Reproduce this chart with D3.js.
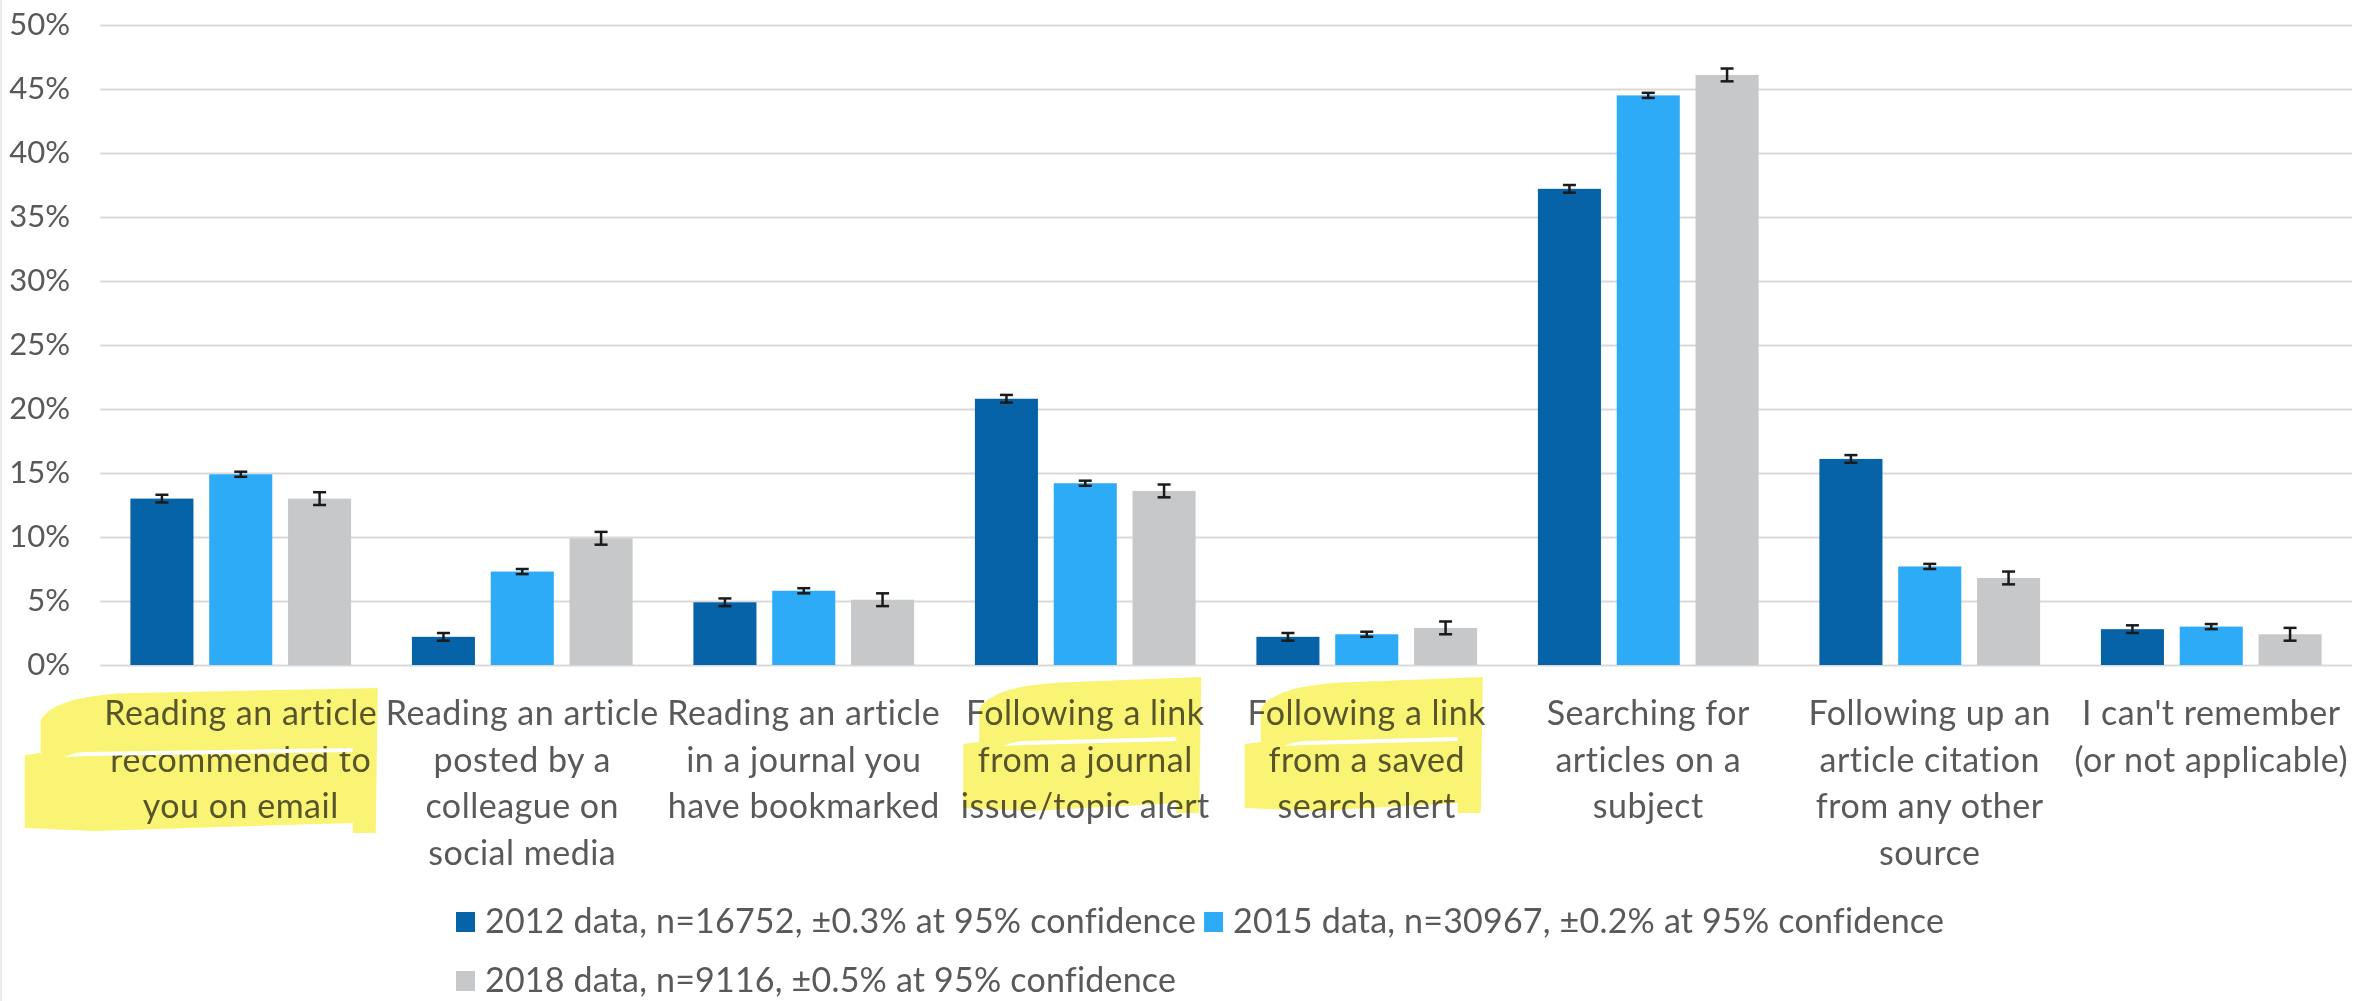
<!DOCTYPE html>
<html>
<head>
<meta charset="utf-8">
<script src="https://cdn.jsdelivr.net/npm/d3@7"></script>
<style>
  html, body { margin: 0; padding: 0; background: #fff; }
  svg text { font-family: Lato, "Open Sans", sans-serif; fill: #595959; }
</style>
</head>
<body>
<svg id="chart"></svg>
<script>
// category labels, one array of lines per category
const categories = [
  ['Reading an article', 'recommended to', 'you on email'],
  ['Reading an article', 'posted by a', 'colleague on', 'social media'],
  ['Reading an article', 'in a journal you', 'have bookmarked'],
  ['Following a link', 'from a journal', 'issue/topic alert'],
  ['Following a link', 'from a saved', 'search alert'],
  ['Searching for', 'articles on a', 'subject'],
  ['Following up an', 'article citation', 'from any other', 'source'],
  ["I can't remember", '(or not applicable)']
];
const seriesNames = [
  '2012 data, n=16752, ±0.3% at 95% confidence',
  '2015 data, n=30967, ±0.2% at 95% confidence',
  '2018 data, n=9116, ±0.5% at 95% confidence'
];
const values2012 = [13.0, 2.2, 4.9, 20.8, 2.2, 37.2, 16.1, 2.8];
const values2015 = [14.9, 7.3, 5.8, 14.2, 2.4, 44.5, 7.7, 3.0];
const values2018 = [13.0, 9.9, 5.1, 13.6, 2.9, 46.1, 6.8, 2.4];
const errors = [0.3, 0.2, 0.5];
const colors = ['#0663a8', '#2eabf6', '#c7c8c9'];
const yTicks = [0, 5, 10, 15, 20, 25, 30, 35, 40, 45, 50];
const highlighted = [0, 3, 4];

const width = 2376, height = 1001;
const margin = { top: 25, right: 24, bottom: 336, left: 100 };
const font = 'Lato, "Open Sans", sans-serif';

const svg = d3.select('#chart').attr('width', width).attr('height', height);

const allValues = [values2012, values2015, values2018];

const x0 = d3.scaleBand()
  .domain(d3.range(categories.length))
  .range([margin.left, width - margin.right])
  .paddingInner(0.216)
  .paddingOuter(0.108);

const x1 = d3.scaleBand()
  .domain(d3.range(seriesNames.length))
  .range([0, x0.bandwidth()])
  .paddingInner(0.2);

const y = d3.scaleLinear()
  .domain([0, 50])
  .range([height - margin.bottom, margin.top]);

// faint chart-area border on the left
svg.append('line')
  .attr('x1', 1).attr('x2', 1).attr('y1', 0).attr('y2', height)
  .attr('stroke', '#ececec').attr('stroke-width', 2);

// gridlines + y labels
const yAxis = d3.axisLeft(y)
  .tickValues(yTicks)
  .tickSize(-(width - margin.left - margin.right))
  .tickPadding(30)
  .tickFormat(d => d + '%');

const gy = svg.append('g')
  .attr('transform', `translate(${margin.left},0)`)
  .call(yAxis);
gy.select('.domain').remove();
gy.selectAll('.tick line').attr('stroke', '#d9d9d9').attr('stroke-width', 2);
gy.selectAll('.tick text')
  .attr('font-size', 31)
  .attr('fill', '#595959')
  .style('font-family', font);

// bars
const groups = svg.append('g').selectAll('g')
  .data(categories.map((c, i) => i))
  .join('g')
  .attr('transform', i => `translate(${x0(i)},0)`);

groups.selectAll('rect')
  .data(i => allValues.map((vals, s) => ({ s, v: vals[i] })))
  .join('rect')
  .attr('x', d => x1(d.s))
  .attr('y', d => y(d.v))
  .attr('width', x1.bandwidth())
  .attr('height', d => y(0) - y(d.v))
  .attr('fill', d => colors[d.s]);

// error bars
const err = groups.selectAll('g.err')
  .data(i => allValues.map((vals, s) => ({ s, v: vals[i] })))
  .join('g')
  .attr('class', 'err')
  .attr('stroke', '#1a1a1a')
  .attr('stroke-width', 2.5);
const capW = 6.5;
const cx = d => x1(d.s) + x1.bandwidth() / 2;
err.append('line')
  .attr('x1', cx).attr('x2', cx)
  .attr('y1', d => y(d.v + errors[d.s]))
  .attr('y2', d => y(d.v - errors[d.s]));
[1, -1].forEach(sign => {
  err.append('line')
    .attr('x1', d => cx(d) - capW)
    .attr('x2', d => cx(d) + capW)
    .attr('y1', d => y(d.v + sign * errors[d.s]))
    .attr('y2', d => y(d.v + sign * errors[d.s]));
});

// category labels
const labelTop = y(0) + 60;
const lineH = 46.7;
const labels = svg.append('g').selectAll('text')
  .data(categories)
  .join('text')
  .attr('text-anchor', 'middle')
  .attr('font-size', 34)
  .attr('letter-spacing', 0.5)
  .attr('x', (d, i) => x0(i) + x0.bandwidth() / 2)
  .attr('y', labelTop);
labels.selectAll('tspan')
  .data(d => d)
  .join('tspan')
  .attr('x', function() { return this.parentNode.getAttribute('x'); })
  .attr('dy', (d, j) => j === 0 ? 0 : lineH)
  .text(d => d);

// yellow marker highlights, drawn over the labels with multiply
// offsets are relative to the label centre and the axis baseline
const hl = svg.append('g').style('mix-blend-mode', 'multiply');
const gaps = svg.append('g');
function marker(c, l, r, t, bt) {
  const b = y(0);
  const p = d3.path();
  p.moveTo(c + l + 16, b + t + 32);
  p.quadraticCurveTo(c + l + 30, b + t + 7, c + l + 110, b + t + 5);
  p.lineTo(c + r, b + t);
  p.lineTo(c + r - 2, b + bt);
  p.lineTo(c + r - 25, b + bt);
  p.lineTo(c + r - 25, b + bt - 10);
  p.lineTo(c + l + 70, b + bt - 2);
  p.lineTo(c + l, b + bt - 5);
  p.lineTo(c + l, b + t + 67);
  p.lineTo(c + l + 16, b + t + 65);
  p.closePath();
  hl.append('path').attr('d', p.toString()).attr('fill', '#faf475');
  // thin white gap between the two marker strokes
  const g = d3.path();
  const gy0 = b + t + 64;
  g.moveTo(c + l + 40, gy0 + 5);
  g.quadraticCurveTo(c + l + 50, gy0, c + l + 62, gy0);
  g.lineTo(c + r - 25, gy0 - 4);
  g.lineTo(c + r - 25, gy0);
  g.lineTo(c + l + 62, gy0 + 4);
  g.closePath();
  gaps.append('path').attr('d', g.toString()).attr('fill', '#fff');
}
highlighted.forEach(i => {
  const c = x0(i) + x0.bandwidth() / 2;
  if (i === 0) marker(c, -216, 137, 23, 168);
  else marker(c, -122, 116, 12, 148);
});

// legend
const legendRows = [[0, 1], [2]];
const lg = svg.append('g');
let ly = 922;
legendRows.forEach(row => {
  let lx = 456;
  row.forEach(s => {
    lg.append('rect')
      .attr('x', lx).attr('y', ly - 10)
      .attr('width', 19).attr('height', 20)
      .attr('fill', colors[s]);
    const t = lg.append('text')
      .attr('x', lx + 29).attr('y', ly + 11)
      .attr('font-size', 34)
      .attr('letter-spacing', 0.2)
      .text(seriesNames[s]);
    lx += 29 + t.node().getComputedTextLength() + 8;
  });
  ly += 59;
});
</script>
</body>
</html>
